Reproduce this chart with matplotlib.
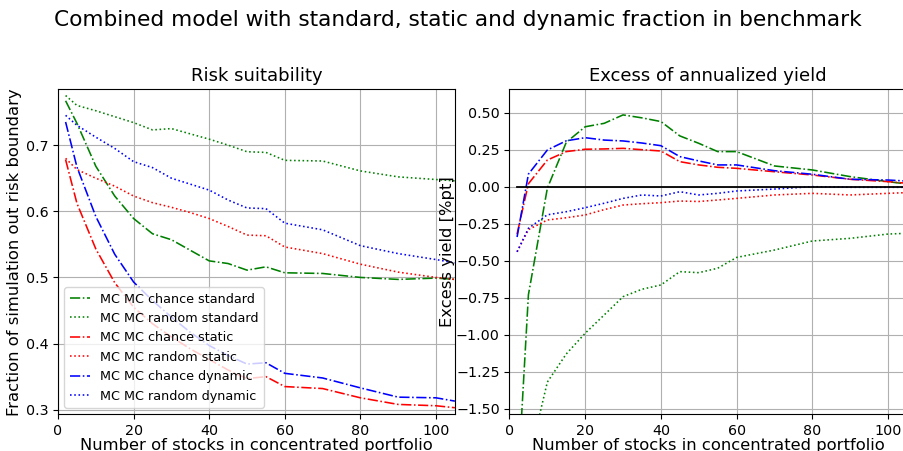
import numpy as np
import matplotlib
matplotlib.use('Agg')
import matplotlib.pyplot as plt

# portfolio sizes (number of stocks)
n_stocks = [2, 5, 10, 15, 20, 25, 30, 35, 40, 45, 50, 55, 60, 70, 80, 90, 100, 105]

# fraction of simulations outside the risk boundary
risk_chance_standard = [0.767, 0.733, 0.668, 0.623, 0.589, 0.566, 0.557, 0.541, 0.525, 0.521, 0.511, 0.516, 0.507, 0.506, 0.500, 0.497, 0.499, 0.497]
risk_random_standard = [0.775, 0.760, 0.752, 0.743, 0.734, 0.723, 0.725, 0.717, 0.709, 0.700, 0.690, 0.689, 0.677, 0.676, 0.661, 0.652, 0.648, 0.646]
risk_chance_static   = [0.678, 0.612, 0.543, 0.492, 0.455, 0.430, 0.410, 0.392, 0.376, 0.360, 0.347, 0.350, 0.335, 0.332, 0.318, 0.308, 0.306, 0.303]
risk_random_static   = [0.680, 0.663, 0.650, 0.638, 0.623, 0.613, 0.606, 0.598, 0.589, 0.577, 0.564, 0.563, 0.546, 0.536, 0.520, 0.508, 0.500, 0.497]
risk_chance_dynamic  = [0.735, 0.667, 0.592, 0.535, 0.493, 0.465, 0.440, 0.417, 0.397, 0.382, 0.369, 0.371, 0.355, 0.348, 0.333, 0.319, 0.318, 0.313]
risk_random_dynamic  = [0.745, 0.730, 0.712, 0.695, 0.675, 0.666, 0.650, 0.641, 0.632, 0.617, 0.605, 0.604, 0.582, 0.572, 0.548, 0.536, 0.527, 0.522]

# excess annualized yield [%pt]
yield_chance_standard = [-2.09, -0.73, -0.01, 0.300, 0.405, 0.428, 0.485, 0.465, 0.440, 0.343, 0.293, 0.237, 0.237, 0.140, 0.113, 0.068, 0.034, 0.018]
yield_random_standard = [-2.60, -1.86, -1.32, -1.130, -0.990, -0.867, -0.743, -0.693, -0.664, -0.574, -0.581, -0.551, -0.478, -0.428, -0.367, -0.349, -0.320, -0.315]
yield_chance_static   = [-0.32, 0.020, 0.180, 0.237, 0.253, 0.255, 0.259, 0.250, 0.241, 0.169, 0.147, 0.131, 0.124, 0.101, 0.079, 0.050, 0.034, 0.023]
yield_random_static   = [-0.44, -0.290, -0.225, -0.210, -0.191, -0.155, -0.124, -0.115, -0.108, -0.097, -0.100, -0.090, -0.079, -0.056, -0.045, -0.056, -0.045, -0.040]
yield_chance_dynamic  = [-0.34, 0.085, 0.248, 0.310, 0.331, 0.315, 0.309, 0.295, 0.277, 0.203, 0.174, 0.147, 0.147, 0.108, 0.084, 0.050, 0.045, 0.038]
yield_random_dynamic  = [-0.44, -0.281, -0.190, -0.169, -0.142, -0.112, -0.079, -0.056, -0.063, -0.034, -0.056, -0.045, -0.029, -0.016, 0.000, -0.004, -0.004, -0.004]

labels = ['MC MC chance standard', 'MC MC random standard',
          'MC MC chance static', 'MC MC random static',
          'MC MC chance dynamic', 'MC MC random dynamic']
colors = ['g', 'g', 'r', 'r', 'b', 'b']
styles = ['-.', ':', '-.', ':', '-.', ':']

risk = [risk_chance_standard, risk_random_standard, risk_chance_static,
        risk_random_static, risk_chance_dynamic, risk_random_dynamic]
excess = [yield_chance_standard, yield_random_standard, yield_chance_static,
          yield_random_static, yield_chance_dynamic, yield_random_dynamic]

fig = plt.figure(figsize=(9.04, 4.51), dpi=100)
ax1 = fig.add_axes([0.0642, 0.082, 0.439, 0.720])
ax2 = fig.add_axes([0.5636, 0.082, 0.4397, 0.720])

for vals, lab, c, ls in zip(risk, labels, colors, styles):
  ax1.plot(n_stocks, vals, color=c, linestyle=ls, linewidth=1.15, label=lab)
for vals, lab, c, ls in zip(excess, labels, colors, styles):
  ax2.plot(n_stocks, vals, color=c, linestyle=ls, linewidth=1.15, label=lab)
ax2.plot(n_stocks, np.zeros(len(n_stocks)), color='k', linewidth=1.3)

ax1.set_xlim(0, 105)
ax1.set_ylim(0.2935, 0.7844)
ax2.set_xlim(0, 105)
ax2.set_ylim(-1.536, 0.658)

for ax in (ax1, ax2):
  ax.grid(True)
  ax.tick_params(labelsize=10.3)
  ax.set_xlabel('Number of stocks in concentrated portfolio', fontsize=11.8, labelpad=0)

ax1.set_title('Risk suitability', fontsize=13)
ax1.set_ylabel('Fraction of simulation out risk boundary', fontsize=11.8, labelpad=3)
ax2.set_title('Excess of annualized yield', fontsize=13)
ax2.set_ylabel('Excess yield [%pt]', fontsize=11.8, labelpad=1)
ax1.legend(loc='lower left', fontsize=9.2, handlelength=1.6)

fig.suptitle('Combined model with standard, static and dynamic fraction in benchmark',
             fontsize=15.6, x=0.506, y=0.978)

plt.savefig('out.png', dpi=100)
